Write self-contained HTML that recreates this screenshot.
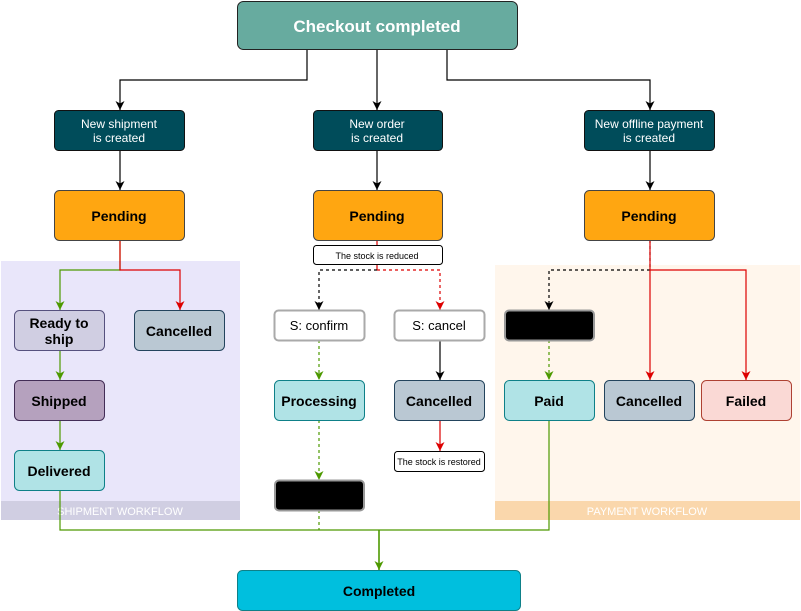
<!DOCTYPE html>
<html><head><meta charset="utf-8"><style>
html,body{margin:0;padding:0;background:#fff}
svg{display:block;font-family:"Liberation Sans",Arial,sans-serif}
</style></head><body>
<svg width="801" height="611" viewBox="0 0 801 611" xmlns="http://www.w3.org/2000/svg">
<defs>
<marker id="ak" markerWidth="9" markerHeight="9" refX="4.5" refY="9" markerUnits="userSpaceOnUse" viewBox="0 0 9 9"><path d="M0,0 L4.5,2.5 L9,0 L4.5,9 z" fill="#000"/></marker>
<marker id="ar" markerWidth="9" markerHeight="9" refX="4.5" refY="9" markerUnits="userSpaceOnUse" viewBox="0 0 9 9"><path d="M0,0 L4.5,2.5 L9,0 L4.5,9 z" fill="#d00"/></marker>
<marker id="ag" markerWidth="9" markerHeight="9" refX="4.5" refY="9" markerUnits="userSpaceOnUse" viewBox="0 0 9 9"><path d="M0,0 L4.5,2.5 L9,0 L4.5,9 z" fill="#4d9900"/></marker>
</defs>
<rect x="1" y="261" width="239" height="259" fill="#E9E6FA"/>
<rect x="1" y="501" width="239" height="19" fill="#D0CEE2"/>
<text x="120" y="515" font-size="11" fill="#fff" text-anchor="middle">SHIPMENT WORKFLOW</text>
<rect x="495" y="265" width="305" height="255" fill="#FFF6EC"/>
<rect x="495" y="501" width="305" height="19" fill="#FAD7AC"/>
<text x="647" y="515" font-size="11" fill="#fff" text-anchor="middle">PAYMENT WORKFLOW</text>

<g fill="none" stroke-width="1.2">
<path d="M307,50 V80 H120 V110" stroke="#000" marker-end="url(#ak)"/>
<path d="M377,50 V110" stroke="#000" marker-end="url(#ak)"/>
<path d="M447,50 V80 H650 V110" stroke="#000" marker-end="url(#ak)"/>
<path d="M120,150 V190" stroke="#000" marker-end="url(#ak)"/>
<path d="M377,150 V190" stroke="#000" marker-end="url(#ak)"/>
<path d="M650,150 V190" stroke="#000" marker-end="url(#ak)"/>
<path d="M120,240 V270 H60 V310" stroke="#4d9900" marker-end="url(#ag)"/>
<path d="M120,240 V270 H180 V310" stroke="#d00" marker-end="url(#ar)"/>
<path d="M60,350 V380" stroke="#4d9900" marker-end="url(#ag)"/>
<path d="M60,420 V450" stroke="#4d9900" marker-end="url(#ag)"/>
<path d="M377,240 V270" stroke="#d00"/>
<path d="M377,270 H319 V310" stroke="#000" stroke-dasharray="3,3" marker-end="url(#ak)"/>
<path d="M377,270 H440 V310" stroke="#d00" stroke-dasharray="3,3" marker-end="url(#ar)"/>
<path d="M319,340 V380" stroke="#4d9900" stroke-dasharray="3,3" marker-end="url(#ag)"/>
<path d="M319,420 V480" stroke="#4d9900" stroke-dasharray="3,3" marker-end="url(#ag)"/>
<path d="M319,510 V530" stroke="#4d9900" stroke-dasharray="3,3"/>
<path d="M440,340 V380" stroke="#000" marker-end="url(#ak)"/>
<path d="M440,420 V451" stroke="#d00" marker-end="url(#ar)"/>
<path d="M650,240 V270 H549 V310" stroke="#000" stroke-dasharray="3,3" marker-end="url(#ak)"/>
<path d="M650,240 V380" stroke="#d00" marker-end="url(#ar)"/>
<path d="M650,270 H746 V380" stroke="#d00" marker-end="url(#ar)"/>
<path d="M549,340 V380" stroke="#4d9900" stroke-dasharray="3,3" marker-end="url(#ag)"/>
<path d="M60,490 V530 H549 V420" stroke="#4d9900"/>
<path d="M379,530 V570" stroke="#4d9900" stroke-width="1.6" marker-end="url(#ag)"/>
</g>

<g stroke-width="1">
<rect x="237.5" y="1.5" width="280" height="48" rx="6" fill="#67AB9F" stroke="#222"/>
<rect x="54.5" y="110.5" width="130" height="40" rx="4" fill="#004C5A" stroke="#111"/>
<rect x="313.5" y="110.5" width="129" height="40" rx="4" fill="#004C5A" stroke="#111"/>
<rect x="584.5" y="110.5" width="130" height="40" rx="4" fill="#004C5A" stroke="#111"/>
<rect x="54.5" y="190.5" width="130" height="50" rx="5" fill="#FFA611" stroke="#444"/>
<rect x="313.5" y="190.5" width="129" height="50" rx="5" fill="#FFA611" stroke="#444"/>
<rect x="584.5" y="190.5" width="130" height="50" rx="5" fill="#FFA611" stroke="#444"/>
<rect x="313.5" y="245.5" width="129" height="19" rx="3" fill="#fff" stroke="#000"/>
<rect x="14.5" y="310.5" width="90" height="40" rx="5" fill="#D0CEE2" stroke="#56517E"/>
<rect x="134.5" y="310.5" width="90" height="40" rx="5" fill="#BAC8D3" stroke="#23445D"/>
<rect x="14.5" y="380.5" width="90" height="40" rx="5" fill="#B5A1BE" stroke="#432D57"/>
<rect x="14.5" y="450.5" width="90" height="40" rx="5" fill="#B0E3E6" stroke="#0E8088"/>
<rect x="274.5" y="310.5" width="90" height="30" rx="4" fill="#fff" stroke="#aaa" stroke-width="2"/>
<rect x="394.5" y="310.5" width="90" height="30" rx="4" fill="#fff" stroke="#aaa" stroke-width="2"/>
<rect x="274.5" y="380.5" width="90" height="40" rx="5" fill="#B0E3E6" stroke="#0E8088"/>
<rect x="394.5" y="380.5" width="90" height="40" rx="5" fill="#BAC8D3" stroke="#23445D"/>
<rect x="394.5" y="451.5" width="90" height="20" rx="3" fill="#fff" stroke="#000"/>
<rect x="275" y="480.5" width="89" height="30" rx="4" fill="#000" stroke="#999" stroke-width="2"/>
<rect x="505" y="310.5" width="89" height="30" rx="4" fill="#000" stroke="#999" stroke-width="2"/>
<rect x="504.5" y="380.5" width="90" height="40" rx="5" fill="#B0E3E6" stroke="#0E8088"/>
<rect x="604.5" y="380.5" width="90" height="40" rx="5" fill="#BAC8D3" stroke="#23445D"/>
<rect x="701.5" y="380.5" width="90" height="40" rx="5" fill="#FAD9D5" stroke="#AE4132"/>
<rect x="237.5" y="570.5" width="283" height="40" rx="5" fill="#00BFDE" stroke="#0E8088"/>
</g>

<g text-anchor="middle">
<text x="377" y="32" font-size="17" font-weight="bold" fill="#fff">Checkout completed</text>
<g font-size="12" fill="#fff">
<text x="119" y="128">New shipment</text><text x="119" y="142">is created</text>
<text x="377" y="128">New order</text><text x="377" y="142">is created</text>
<text x="649" y="128">New offline payment</text><text x="649" y="142">is created</text>
</g>
<g font-size="14" font-weight="bold" fill="#000">
<text x="119" y="221">Pending</text><text x="377" y="221">Pending</text><text x="649" y="221">Pending</text>
<text x="59" y="328">Ready to</text><text x="59" y="344">ship</text>
<text x="179" y="336">Cancelled</text>
<text x="59" y="406">Shipped</text>
<text x="59" y="476">Delivered</text>
<text x="319" y="406">Processing</text>
<text x="439" y="406">Cancelled</text>
<text x="549" y="406">Paid</text>
<text x="649" y="406">Cancelled</text>
<text x="746" y="406">Failed</text>
<text x="379" y="596">Completed</text>
</g>
<text x="377" y="259" font-size="9" fill="#000">The stock is reduced</text>
<text x="439" y="465" font-size="9" fill="#000">The stock is restored</text>
<text x="319" y="330" font-size="13" fill="#000">S: confirm</text>
<text x="439" y="330" font-size="13" fill="#000">S: cancel</text>
</g>
</svg>
</body></html>
